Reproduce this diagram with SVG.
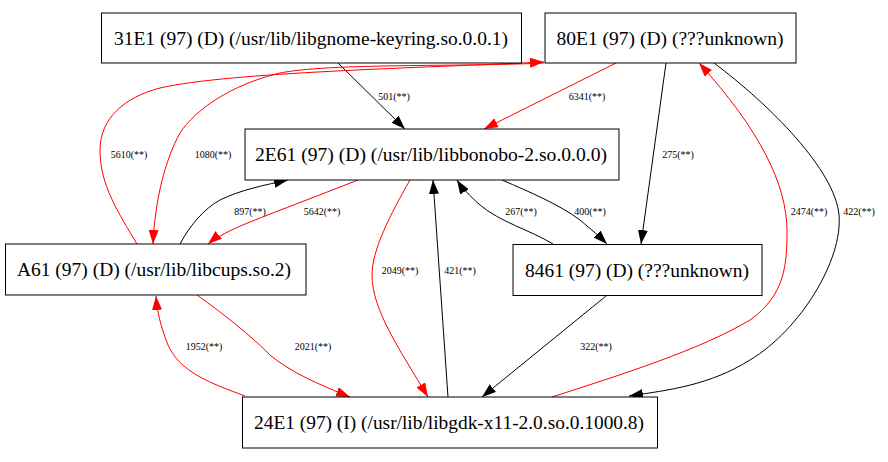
<svg xmlns="http://www.w3.org/2000/svg" width="888" height="462" viewBox="0 0 888 462">
<style>
.box{fill:#fff;stroke:#000;stroke-width:1}
.nl{font-family:"Liberation Serif","Times New Roman",serif;font-size:19px;fill:#000;text-anchor:middle}
.el{font-family:"Liberation Serif","Times New Roman",serif;font-size:10px;fill:#000;text-anchor:middle}
.e{fill:none;stroke-width:1}
.k{stroke:#000;marker-end:url(#ak)}
.r{stroke:#ff0000;marker-end:url(#ar)}
</style>
<defs>
<marker id="ak" markerUnits="userSpaceOnUse" markerWidth="14" markerHeight="10" viewBox="0 0 14 10" refX="14" refY="5" orient="auto"><path d="M0,0 L14,5 L0,10 z" fill="#000"/></marker>
<marker id="ar" markerUnits="userSpaceOnUse" markerWidth="14" markerHeight="10" viewBox="0 0 14 10" refX="14" refY="5" orient="auto"><path d="M0,0 L14,5 L0,10 z" fill="#ff0000"/></marker>
</defs>
<rect width="888" height="462" fill="#fff"/>
<g id="connectors">
<path class="e k" d="M338,63 L405,129"/>
<path class="e r" d="M616,63 L484,129"/>
<path class="e k" d="M666,63 L641,244"/>
<path class="e k" d="M714,63 C770,105 835,170 839,215 C843,260 800,330 750,360 C710,385 670,390 629,396"/>
<path class="e r" d="M552,397 C620,375 700,350 750,320 C785,295 787,265 787,231 C787,185 760,130 699,63"/>
<path class="e r" d="M137,244 C118,212 100,185 100,150 C100,118 125,97 160,88 C230,72 420,68 544,62"/>
<path class="e r" d="M544,63 C460,67 330,63 280,73 C230,85 195,110 180,133 C165,160 155,200 153,244"/>
<path class="e k" d="M180,244 C190,225 205,208 220,200 C240,190 265,185 288,180"/>
<path class="e r" d="M358,180 C320,195 280,210 250,222 C230,230 215,238 208,244"/>
<path class="e r" d="M410,180 C390,215 372,250 372,275 C372,310 400,350 428,397"/>
<path class="e k" d="M448,397 L433,180"/>
<path class="e k" d="M553,244 C530,230 500,222 480,205 C470,196 462,188 457,180"/>
<path class="e k" d="M502,180 C530,192 560,205 580,220 C592,230 600,237 607,244"/>
<path class="e k" d="M606,296 L482,397"/>
<path class="e r" d="M197,295 C225,315 250,335 270,355 C290,372 320,385 350,397"/>
<path class="e r" d="M245,396 C210,383 180,372 168,345 C160,325 157,310 156,296"/>
<text class="el" x="394" y="100">501(**)</text>
<text class="el" x="587" y="100">6341(**)</text>
<text class="el" x="129" y="158">5610(**)</text>
<text class="el" x="213" y="158">1080(**)</text>
<text class="el" x="678" y="158">275(**)</text>
<text class="el" x="250" y="215">897(**)</text>
<text class="el" x="322" y="215">5642(**)</text>
<text class="el" x="521" y="215">267(**)</text>
<text class="el" x="590" y="215">400(**)</text>
<text class="el" x="809" y="215">2474(**)</text>
<text class="el" x="859" y="215">422(**)</text>
<text class="el" x="400" y="274">2049(**)</text>
<text class="el" x="460" y="274">421(**)</text>
<text class="el" x="313" y="350">2021(**)</text>
<text class="el" x="204" y="350">1952(**)</text>
<text class="el" x="596" y="350">322(**)</text>
</g>
<g id="n31E1"><rect class="box" x="101.5" y="13" width="420" height="50"/><text class="nl" x="311" y="45" textLength="394" lengthAdjust="spacingAndGlyphs">31E1 (97) (D) (/usr/lib/libgnome-keyring.so.0.0.1)</text></g>
<g id="n80E1"><rect class="box" x="545" y="13" width="251" height="50"/><text class="nl" x="670" y="45" textLength="227" lengthAdjust="spacingAndGlyphs">80E1 (97) (D) (???unknown)</text></g>
<g id="n2E61"><rect class="box" x="245" y="129" width="374" height="51"/><text class="nl" x="431" y="161" textLength="352" lengthAdjust="spacingAndGlyphs">2E61 (97) (D) (/usr/lib/libbonobo-2.so.0.0.0)</text></g>
<g id="nA61"><rect class="box" x="5.5" y="244" width="300.5" height="51"/><text class="nl" x="154" y="276" textLength="274" lengthAdjust="spacingAndGlyphs">A61 (97) (D) (/usr/lib/libcups.so.2)</text></g>
<g id="n8461"><rect class="box" x="513" y="244.5" width="249" height="51"/><text class="nl" x="637" y="277" textLength="224" lengthAdjust="spacingAndGlyphs">8461 (97) (D) (???unknown)</text></g>
<g id="n24E1"><rect class="box" x="242.5" y="397" width="415" height="51"/><text class="nl" x="449" y="429" textLength="390" lengthAdjust="spacingAndGlyphs">24E1 (97) (I) (/usr/lib/libgdk-x11-2.0.so.0.1000.8)</text></g>
</svg>
